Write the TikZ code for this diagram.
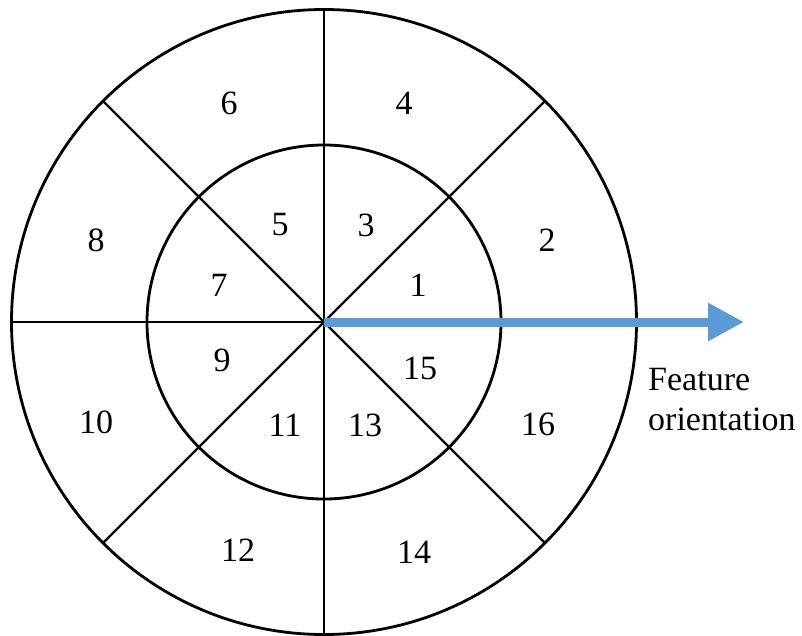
\documentclass[tikz,border=0pt]{standalone}
\usepackage{fontspec}
\setmainfont{Liberation Serif}
\usetikzlibrary{arrows.meta}
\begin{document}
\begin{tikzpicture}[x=1pt,y=-1pt,
  ring/.style={line width=2.8pt},
  spoke/.style={line width=2.2pt},
  lbl/.style={font=\fontsize{34}{40}\selectfont, inner sep=0pt},
  orient/.style={line width=9pt, draw={rgb,255:red,91;green,155;blue,213},
    -{Triangle[length=36pt,width=36pt]}}]
\useasboundingbox (0,0) rectangle (802,635);
\coordinate (c) at (324,322);
\draw[ring] (c) circle[radius=312.5];
\draw[ring] (c) circle[radius=177];
\foreach \a in {0,45,...,315} {
  \draw[spoke] (c) -- ++(\a:312.5);
}
\coordinate (tip) at (744,322);
\draw[orient] (c) -- (tip);
\node[lbl] (n6) at (229,103) {6};
\node[lbl] (n4) at (404,103) {4};
\node[lbl] (n8) at (96,240) {8};
\node[lbl] (n2) at (547,240) {2};
\node[lbl] (n5) at (280,225) {5};
\node[lbl] (n3) at (366,225) {3};
\node[lbl] (n7) at (219,285) {7};
\node[lbl] (n1) at (418,285) {1};
\node[lbl] (n9) at (222,360) {9};
\node[lbl] (n15) at (420,368) {15};
\node[lbl] (n10) at (96,422) {10};
\node[lbl] (n16) at (538,424) {16};
\node[lbl] (n11) at (285,425) {11};
\node[lbl] (n13) at (365,425) {13};
\node[lbl] (n12) at (238,550) {12};
\node[lbl] (n14) at (414,552) {14};
\node[lbl, anchor=west, align=left] (fo) at (648,400) {Feature\\orientation};
\end{tikzpicture}
\end{document}
